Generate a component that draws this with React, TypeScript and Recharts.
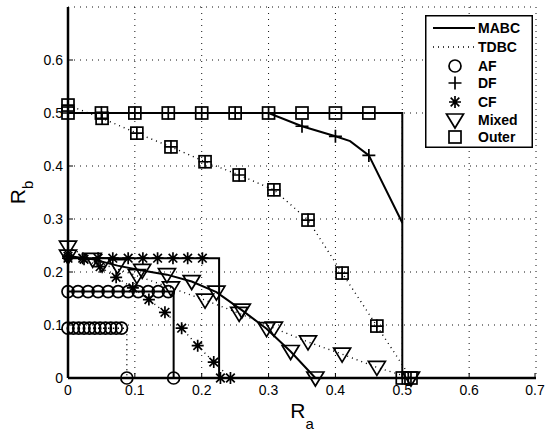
import React from 'react';
import { CartesianGrid, ComposedChart, Legend, Line, Scatter, XAxis, YAxis } from 'recharts';

const X_TICKS = [0, 0.1, 0.2, 0.3, 0.4, 0.5, 0.6, 0.7];
const Y_TICKS = [0, 0.1, 0.2, 0.3, 0.4, 0.5, 0.6];
const LEGEND_LABELS = ['MABC', 'TDBC', 'AF', 'DF', 'CF', 'Mixed', 'Outer'];

// MABC regions (solid)
const mabcOuter = [
  { x: 0, y: 0.5 },
  { x: 0.5, y: 0.5 },
  { x: 0.5, y: 0 },
];
const mabcDf = [
  { x: 0, y: 0.5 },
  { x: 0.3, y: 0.5 },
  { x: 0.35, y: 0.475 },
  { x: 0.4, y: 0.456 },
  { x: 0.422, y: 0.447 },
  { x: 0.45, y: 0.42 },
  { x: 0.5, y: 0.293 },
];
const mabcAf = [
  { x: 0, y: 0.163 },
  { x: 0.158, y: 0.163 },
  { x: 0.158, y: 0 },
];
const mabcCf = [
  { x: 0, y: 0.226 },
  { x: 0.226, y: 0.226 },
  { x: 0.226, y: 0 },
];
const mabcMixed = [
  { x: 0, y: 0.23 },
  { x: 0.037, y: 0.224 },
  { x: 0.074, y: 0.212 },
  { x: 0.111, y: 0.203 },
  { x: 0.148, y: 0.195 },
  { x: 0.185, y: 0.182 },
  { x: 0.222, y: 0.162 },
  { x: 0.26, y: 0.128 },
  { x: 0.297, y: 0.093 },
  { x: 0.333, y: 0.05 },
  { x: 0.37, y: 0 },
];

// TDBC regions (dotted)
const tdbcOuter = [
  { x: 0, y: 0.515 },
  { x: 0.051, y: 0.49 },
  { x: 0.103, y: 0.462 },
  { x: 0.154, y: 0.436 },
  { x: 0.205, y: 0.408 },
  { x: 0.256, y: 0.383 },
  { x: 0.308, y: 0.355 },
  { x: 0.359, y: 0.298 },
  { x: 0.41, y: 0.198 },
  { x: 0.462, y: 0.098 },
  { x: 0.513, y: 0 },
];
const tdbcAf = [
  { x: 0, y: 0.094 },
  { x: 0.088, y: 0.094 },
  { x: 0.088, y: 0 },
];
const tdbcCf = [
  { x: 0, y: 0.23 },
  { x: 0.024, y: 0.224 },
  { x: 0.048, y: 0.21 },
  { x: 0.072, y: 0.19 },
  { x: 0.097, y: 0.17 },
  { x: 0.121, y: 0.148 },
  { x: 0.145, y: 0.124 },
  { x: 0.17, y: 0.094 },
  { x: 0.194, y: 0.061 },
  { x: 0.218, y: 0.03 },
  { x: 0.243, y: 0 },
];
const tdbcMixed = [
  { x: 0, y: 0.247 },
  { x: 0.051, y: 0.215 },
  { x: 0.103, y: 0.193 },
  { x: 0.154, y: 0.17 },
  { x: 0.205, y: 0.147 },
  { x: 0.256, y: 0.122 },
  { x: 0.308, y: 0.094 },
  { x: 0.359, y: 0.068 },
  { x: 0.41, y: 0.045 },
  { x: 0.462, y: 0.02 },
  { x: 0.513, y: 0 },
];

// marker-only point sets
const afMabcPts = [
  { x: 0, y: 0.163 }, { x: 0.015, y: 0.163 }, { x: 0.03, y: 0.163 }, { x: 0.045, y: 0.163 },
  { x: 0.06, y: 0.163 }, { x: 0.075, y: 0.163 }, { x: 0.09, y: 0.163 }, { x: 0.105, y: 0.163 },
  { x: 0.12, y: 0.163 }, { x: 0.135, y: 0.163 }, { x: 0.15, y: 0.163 }, { x: 0.158, y: 0 },
];
const afTdbcPts = [
  { x: 0, y: 0.094 }, { x: 0.008, y: 0.094 }, { x: 0.016, y: 0.094 }, { x: 0.024, y: 0.094 },
  { x: 0.032, y: 0.094 }, { x: 0.04, y: 0.094 }, { x: 0.048, y: 0.094 }, { x: 0.056, y: 0.094 },
  { x: 0.064, y: 0.094 }, { x: 0.072, y: 0.094 }, { x: 0.08, y: 0.094 }, { x: 0.088, y: 0 },
];
const dfMabcPts = [
  { x: 0, y: 0.5 }, { x: 0.05, y: 0.5 }, { x: 0.1, y: 0.5 }, { x: 0.15, y: 0.5 },
  { x: 0.2, y: 0.5 }, { x: 0.25, y: 0.5 }, { x: 0.3, y: 0.5 }, { x: 0.35, y: 0.475 },
  { x: 0.4, y: 0.456 }, { x: 0.45, y: 0.42 }, { x: 0.5, y: 0 },
];
const cfMabcPts = [
  { x: 0, y: 0.226 }, { x: 0.022, y: 0.226 }, { x: 0.045, y: 0.226 }, { x: 0.067, y: 0.226 },
  { x: 0.09, y: 0.226 }, { x: 0.112, y: 0.226 }, { x: 0.134, y: 0.226 }, { x: 0.157, y: 0.226 },
  { x: 0.179, y: 0.226 }, { x: 0.201, y: 0.226 }, { x: 0.228, y: 0 },
];
const outerMabcPts = [
  { x: 0, y: 0.5 }, { x: 0.05, y: 0.5 }, { x: 0.1, y: 0.5 }, { x: 0.15, y: 0.5 },
  { x: 0.2, y: 0.5 }, { x: 0.25, y: 0.5 }, { x: 0.3, y: 0.5 }, { x: 0.35, y: 0.5 },
  { x: 0.4, y: 0.5 }, { x: 0.45, y: 0.5 }, { x: 0.5, y: 0 },
];

const INK = '#000';
const MW = 1.7; // marker stroke

const circleMark = (p: any) => (
  <circle cx={p.cx} cy={p.cy} r={6} fill="none" stroke={INK} strokeWidth={MW} />
);
const plusMark = (p: any) => (
  <path d={`M${p.cx - 6.5},${p.cy}h13M${p.cx},${p.cy - 6.5}v13`} stroke={INK} strokeWidth={MW} fill="none" />
);
const starMark = (p: any) => (
  <path
    d={`M${p.cx - 6},${p.cy}h12M${p.cx},${p.cy - 6}v12M${p.cx - 4.3},${p.cy - 4.3}l8.6,8.6M${p.cx - 4.3},${p.cy + 4.3}l8.6,-8.6`}
    stroke={INK}
    strokeWidth={MW}
    fill="none"
  />
);
const triMark = (p: any) => (
  <path
    d={`M${p.cx - 8.5},${p.cy - 6}L${p.cx + 8.5},${p.cy - 6}L${p.cx},${p.cy + 8}Z`}
    stroke={INK}
    strokeWidth={MW}
    fill="none"
  />
);
const squareMark = (p: any) => (
  <rect x={p.cx - 6} y={p.cy - 6} width={12} height={12} stroke={INK} strokeWidth={MW} fill="none" />
);

const XTick = (p: any) => (
  <g>
    <line x1={p.x} x2={p.x} y1={p.y} y2={p.y - 5} stroke={INK} />
    <text x={p.x} y={p.y + 17} textAnchor="middle" fontSize={14} fill={INK}>
      {p.payload.value}
    </text>
  </g>
);
const YTick = (p: any) => (
  <g>
    <line x1={p.x} x2={p.x + 5} y1={p.y} y2={p.y} stroke={INK} />
    <text x={p.x - 5} y={p.y + 5} textAnchor="end" fontSize={14} fill={INK}>
      {p.payload.value}
    </text>
  </g>
);
const TopTick = (p: any) => <line x1={p.x} x2={p.x} y1={p.y} y2={p.y + 5} stroke={INK} />;
const RightTick = (p: any) => <line x1={p.x} x2={p.x - 5} y1={p.y} y2={p.y} stroke={INK} />;

const XLabel = (p: any) => {
  const vb = p.viewBox;
  const cx = vb.x + vb.width / 2;
  return (
    <text x={cx} y={418} textAnchor="middle" fontSize={21} fill={INK}>
      R<tspan dy={11} fontSize={15}>a</tspan>
    </text>
  );
};
const YLabel = (p: any) => {
  const vb = p.viewBox;
  const cy = vb.y + vb.height / 2;
  return (
    <text x={25} y={cy} transform={`rotate(-90 25 ${cy})`} textAnchor="middle" fontSize={21} fill={INK}>
      R<tspan dy={8} fontSize={15}>b</tspan>
    </text>
  );
};

const rowY = [13, 32, 51, 68, 87, 105, 122];
const legendMarks = [null, null, circleMark, plusMark, starMark, triMark, squareMark];

const renderLegend = () => (
  <svg width={108} height={133} style={{ display: 'block' }}>
    <rect x={0.75} y={0.75} width={106.5} height={131.5} fill="#fff" stroke={INK} strokeWidth={1.5} />
    {LEGEND_LABELS.map((name, i) => {
      const y = rowY[i];
      const mark = legendMarks[i];
      return (
        <g key={name}>
          {i === 0 && <line x1={8} x2={50} y1={y} y2={y} stroke={INK} strokeWidth={2} />}
          {i === 1 && <line x1={8} x2={50} y1={y} y2={y} stroke={INK} strokeWidth={1.3} strokeDasharray="1 4" />}
          {mark && mark({ cx: 30, cy: y })}
          <text x={53} y={y + 5} fontSize={14} fontWeight="bold" fill={INK}>
            {name}
          </text>
        </g>
      );
    })}
  </svg>
);

const solid = { stroke: INK, strokeWidth: 2, dot: false, activeDot: false, isAnimationActive: false, type: 'linear' as const };
const dotted = { ...solid, strokeWidth: 1.4, strokeDasharray: '1 4' };

export default function App() {
  return (
    <div
      style={{
        position: 'absolute',
        left: 0,
        top: 0,
        width: 545,
        height: 432,
        background: '#fff',
        fontFamily: '"Liberation Sans", Arial, sans-serif',
      }}
    >
      <ComposedChart width={545} height={432} margin={{ top: 7, right: 9, left: 0, bottom: 0 }}>
        <CartesianGrid stroke="#111" strokeDasharray="1 5" />
        <XAxis
          dataKey="x"
          type="number"
          domain={[0, 0.7]}
          ticks={X_TICKS}
          height={54}
          tickSize={0}
          tickMargin={0}
          tick={XTick}
          axisLine={{ stroke: INK, strokeWidth: 2.5 }}
          label={{ content: XLabel }}
        />
        <XAxis
          xAxisId="t"
          orientation="top"
          type="number"
          domain={[0, 0.7]}
          ticks={X_TICKS}
          height={0}
          tickSize={0}
          tick={TopTick}
          axisLine={{ stroke: INK, strokeWidth: 2.5 }}
        />
        <YAxis
          dataKey="y"
          type="number"
          domain={[0, 0.7]}
          ticks={Y_TICKS}
          width={68}
          tickSize={0}
          tickMargin={0}
          tick={YTick}
          axisLine={{ stroke: INK, strokeWidth: 2.5 }}
          label={{ content: YLabel }}
        />
        <YAxis
          yAxisId="r"
          orientation="right"
          type="number"
          domain={[0, 0.7]}
          ticks={Y_TICKS}
          width={0}
          tickSize={0}
          tick={RightTick}
          axisLine={{ stroke: INK, strokeWidth: 2.5 }}
        />

        <Line data={mabcOuter} dataKey="y" {...solid} />
        <Line data={mabcDf} dataKey="y" {...solid} />
        <Line data={mabcAf} dataKey="y" {...solid} />
        <Line data={mabcCf} dataKey="y" {...solid} />
        <Line data={mabcMixed} dataKey="y" {...solid} />
        <Line data={tdbcOuter} dataKey="y" {...dotted} />
        <Line data={tdbcAf} dataKey="y" {...dotted} />
        <Line data={tdbcCf} dataKey="y" {...dotted} />
        <Line data={tdbcMixed} dataKey="y" {...dotted} />

        <Scatter data={afMabcPts} shape={circleMark} isAnimationActive={false} />
        <Scatter data={afTdbcPts} shape={circleMark} isAnimationActive={false} />
        <Scatter data={cfMabcPts} shape={starMark} isAnimationActive={false} />
        <Scatter data={tdbcCf} shape={starMark} isAnimationActive={false} />
        <Scatter data={mabcMixed} shape={triMark} isAnimationActive={false} />
        <Scatter data={tdbcMixed} shape={triMark} isAnimationActive={false} />
        <Scatter data={outerMabcPts} shape={squareMark} isAnimationActive={false} />
        <Scatter data={tdbcOuter} shape={squareMark} isAnimationActive={false} />
        <Scatter data={dfMabcPts} shape={plusMark} isAnimationActive={false} />
        <Scatter data={tdbcOuter} shape={plusMark} isAnimationActive={false} />

        <Legend
          layout="horizontal"
          verticalAlign="middle"
          align="center"
          wrapperStyle={{ left: 425, top: 15, width: 108, height: 133 }}
          content={renderLegend}
        />
      </ComposedChart>
    </div>
  );
}
